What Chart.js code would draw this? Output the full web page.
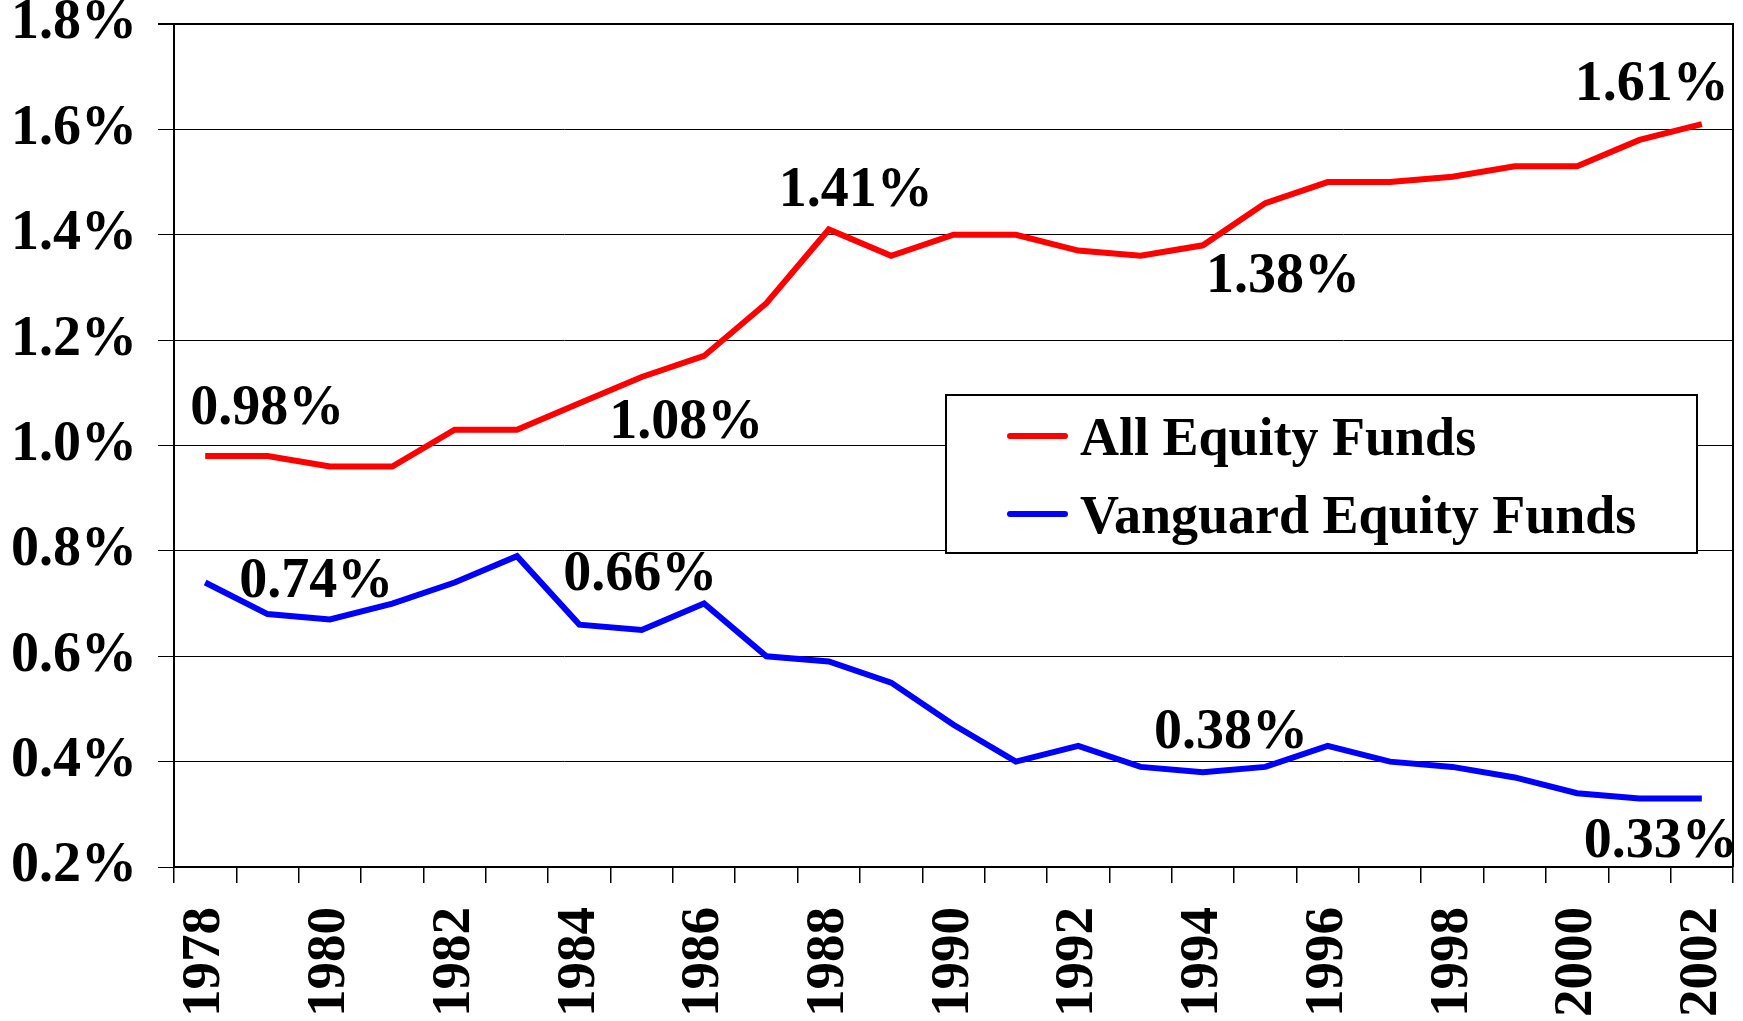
<!DOCTYPE html>
<html>
<head>
<meta charset="utf-8">
<title>Expense ratios</title>
<script src="https://cdn.jsdelivr.net/npm/chart.js@4.4.1/dist/chart.umd.min.js"></script>
<style>
  html, body { margin: 0; padding: 0; background: #fff; }
  #wrap { width: 1743px; height: 1021px; }
</style>
</head>
<body>
<div id="wrap"><canvas id="chart" width="1743" height="1021"></canvas></div>
<script>
// years on the x axis
const years = [
  "1978", "1979", "1980", "1981", "1982", "1983", "1984", "1985", "1986",
  "1987", "1988", "1989", "1990", "1991", "1992", "1993", "1994", "1995",
  "1996", "1997", "1998", "1999", "2000", "2001", "2002"
];

// expense ratios, in percent
const allEquity = [
  0.98, 0.98, 0.96, 0.96, 1.03, 1.03, 1.08, 1.13, 1.17,
  1.27, 1.41, 1.36, 1.40, 1.40, 1.37, 1.36, 1.38, 1.46,
  1.50, 1.50, 1.51, 1.53, 1.53, 1.58, 1.61
];
const vanguardEquity = [
  0.74, 0.68, 0.67, 0.70, 0.74, 0.79, 0.66, 0.65, 0.70,
  0.60, 0.59, 0.55, 0.47, 0.40, 0.43, 0.39, 0.38, 0.39,
  0.43, 0.40, 0.39, 0.37, 0.34, 0.33, 0.33
];

// y axis range
const yMin = 0.2;
const yMax = 1.8;
const yStep = 0.2;

// which points carry a value label
const allLabelIdx = [0, 6, 10, 16, 24];
const vanguardLabelIdx = [0, 6, 16, 24];

const FONT = '"Liberation Serif", "Times New Roman", serif';

// label placement relative to the point (left edge, baseline)
const labelOffsets = {
  "0:0": [-15, -32], "0:6": [30, 35], "0:10": [-50, -23], "0:16": [3, 47], "0:24": [-127, -24],
  "1:0": [34, 15], "1:6": [-16, -35], "1:16": [-49, -24], "1:24": [-118, 58]
};

const valueLabels = {
  id: "valueLabels",
  afterDatasetsDraw(chart) {
    const ctx = chart.ctx;
    const xs = chart.scales.x, ys = chart.scales.y;
    const sets = [[0, allLabelIdx], [1, vanguardLabelIdx]];
    ctx.save();
    ctx.fillStyle = "#000";
    ctx.font = "bold 56px " + FONT;
    ctx.textAlign = "left";
    ctx.textBaseline = "alphabetic";
    sets.forEach(([d, idxs]) => {
      const vals = chart.data.datasets[d].data;
      idxs.forEach(i => {
        const off = labelOffsets[d + ":" + i] || [0, -20];
        const px = xs.getPixelForValue(i);
        const py = ys.getPixelForValue(vals[i]);
        ctx.fillText(vals[i].toFixed(2) + "%", px + off[0], py + off[1]);
      });
    });
    ctx.restore();
  }
};

// boxed legend sitting inside the plot
const boxLegend = {
  id: "boxLegend",
  afterDatasetsDraw(chart) {
    const ctx = chart.ctx;
    const box = { x: 946, y: 395, w: 751, h: 158 };
    ctx.save();
    ctx.fillStyle = "#fff";
    ctx.fillRect(box.x, box.y, box.w, box.h);
    ctx.strokeStyle = "#000";
    ctx.lineWidth = 2;
    ctx.strokeRect(box.x, box.y, box.w, box.h);
    ctx.font = "bold 54px " + FONT;
    ctx.textBaseline = "alphabetic";
    ctx.textAlign = "left";
    chart.data.datasets.forEach((ds, k) => {
      const cy = 436 + k * 78;
      ctx.strokeStyle = ds.borderColor;
      ctx.lineWidth = 6;
      ctx.lineCap = "round";
      ctx.beginPath();
      ctx.moveTo(1010, cy);
      ctx.lineTo(1065, cy);
      ctx.stroke();
      ctx.fillStyle = "#000";
      ctx.fillText(ds.label, 1080, cy + 19);
    });
    ctx.restore();
  }
};

// top and right frame of the plot
const frame = {
  id: "frame",
  beforeDatasetsDraw(chart) {
    const { ctx, chartArea: a } = chart;
    ctx.save();
    ctx.strokeStyle = "#000";
    ctx.lineWidth = 2;
    ctx.beginPath();
    ctx.moveTo(a.left - 16, a.top);
    ctx.lineTo(a.right, a.top);
    ctx.lineTo(a.right, a.bottom);
    ctx.stroke();
    ctx.restore();
  }
};

new Chart(document.getElementById("chart"), {
  type: "line",
  data: {
    labels: years,
    datasets: [
      {
        label: "All Equity Funds",
        data: allEquity,
        borderColor: "#ff0000",
        borderWidth: 6,
        pointRadius: 0,
        tension: 0
      },
      {
        label: "Vanguard Equity Funds",
        data: vanguardEquity,
        borderColor: "#0000ff",
        borderWidth: 6,
        pointRadius: 0,
        tension: 0
      }
    ]
  },
  options: {
    responsive: false,
    animation: false,
    devicePixelRatio: 1,
    layout: { padding: { top: 24, right: 10, left: 0, bottom: 0 } },
    plugins: {
      legend: { display: false },
      tooltip: { enabled: false }
    },
    scales: {
      x: {
        offset: true,
        afterFit: s => {
          s.height = 154;
          s.paddingLeft = 0;
          s.paddingRight = 0;
        },
        grid: {
          offset: true,
          drawOnChartArea: false,
          color: "#000",
          lineWidth: 1.5,
          tickLength: 16
        },
        border: { color: "#000", width: 2 },
        ticks: {
          autoSkip: false,
          minRotation: 90,
          maxRotation: 90,
          padding: 24,
          color: "#000",
          font: { family: FONT, size: 55, weight: "bold" },
          callback: (v, i) => (i % 2 === 0 ? years[i] : "")
        }
      },
      y: {
        min: yMin,
        max: yMax,
        afterFit: s => {
          s.width = 174;
          s.paddingTop = 0;
          s.paddingBottom = 0;
        },
        grid: {
          color: "#000",
          lineWidth: 1,
          tickLength: 16
        },
        border: { color: "#000", width: 2 },
        ticks: {
          stepSize: yStep,
          padding: 21,
          color: "#000",
          font: { family: FONT, size: 56, weight: "bold" },
          callback: v => v.toFixed(1) + "%"
        }
      }
    }
  },
  plugins: [frame, valueLabels, boxLegend]
});
</script>
</body>
</html>
